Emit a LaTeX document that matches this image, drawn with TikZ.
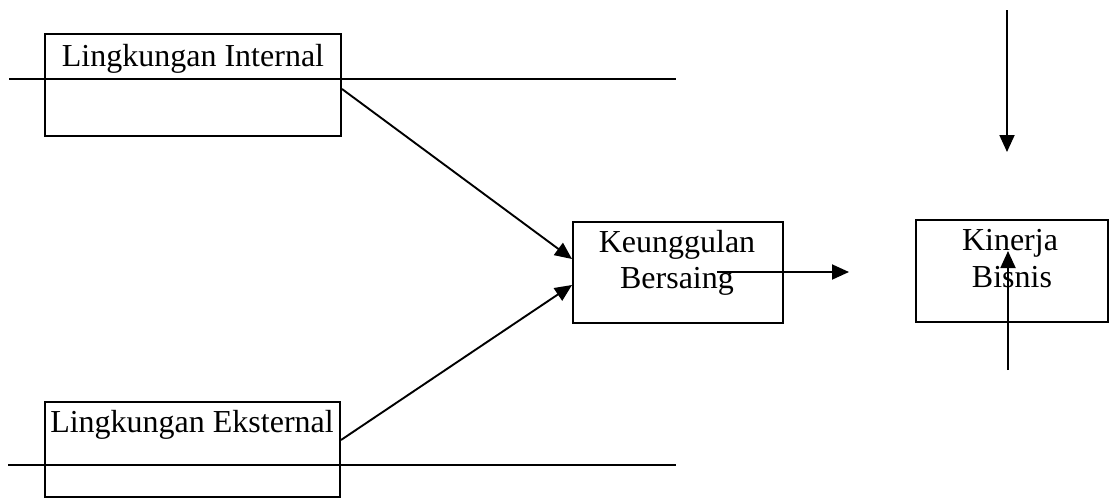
\documentclass[tikz,border=0pt]{standalone}
\usepackage{fontspec}
\setmainfont{Liberation Serif}
\usetikzlibrary{arrows.meta}
\begin{document}
\begin{tikzpicture}[x=1pt,y=-1pt,
  boxline/.style={draw=black,line width=1.9pt},
  conn/.style={draw=black,line width=1.9pt},
  arr/.style={conn,-{Triangle[length=17pt,width=15pt]}},
  lbl/.style={anchor=base,inner sep=0pt,font=\fontsize{32}{38}\selectfont}]
\useasboundingbox (0,0) rectangle (1109,498);
% boxes
\draw[boxline] (45,34) rectangle (341,136);
\draw[boxline] (45,402) rectangle (340,497);
\draw[boxline] (573,222) rectangle (783,323);
\draw[boxline] (916,220) rectangle (1108,322);
% connector end points
\coordinate (intA) at (342,89);
\coordinate (ekA) at (341,440);
\coordinate (kbTop) at (572,259);
\coordinate (kbBot) at (572,285);
% text
\node[lbl] (int) at (193,66) {Lingkungan Internal};
\node[lbl] (ek) at (192,432) {Lingkungan Eksternal};
\node[lbl] (kb1) at (677,252) {Keunggulan};
\node[lbl] (kb2) at (677,288) {Bersaing};
\node[lbl] (kn1) at (1010,250) {Kinerja};
\node[lbl] (kn2) at (1012,287) {Bisnis};
% horizontal lines
\coordinate (l1a) at (9,79); \coordinate (l1b) at (676,79);
\coordinate (l2a) at (8,465); \coordinate (l2b) at (676,465);
\draw[conn] (l1a) -- (l1b);
\draw[conn] (l2a) -- (l2b);
% arrows
\draw[arr] (intA) -- (kbTop);
\draw[arr] (ekA) -- (kbBot);
\coordinate (hA) at (717,272); \coordinate (hB) at (849,272);
\draw[arr] (hA) -- (hB);
\coordinate (dA) at (1007,10); \coordinate (dB) at (1007,152);
\draw[arr] (dA) -- (dB);
\coordinate (uA) at (1008,370); \coordinate (uB) at (1008,251);
\draw[arr] (uA) -- (uB);
\end{tikzpicture}
\end{document}
